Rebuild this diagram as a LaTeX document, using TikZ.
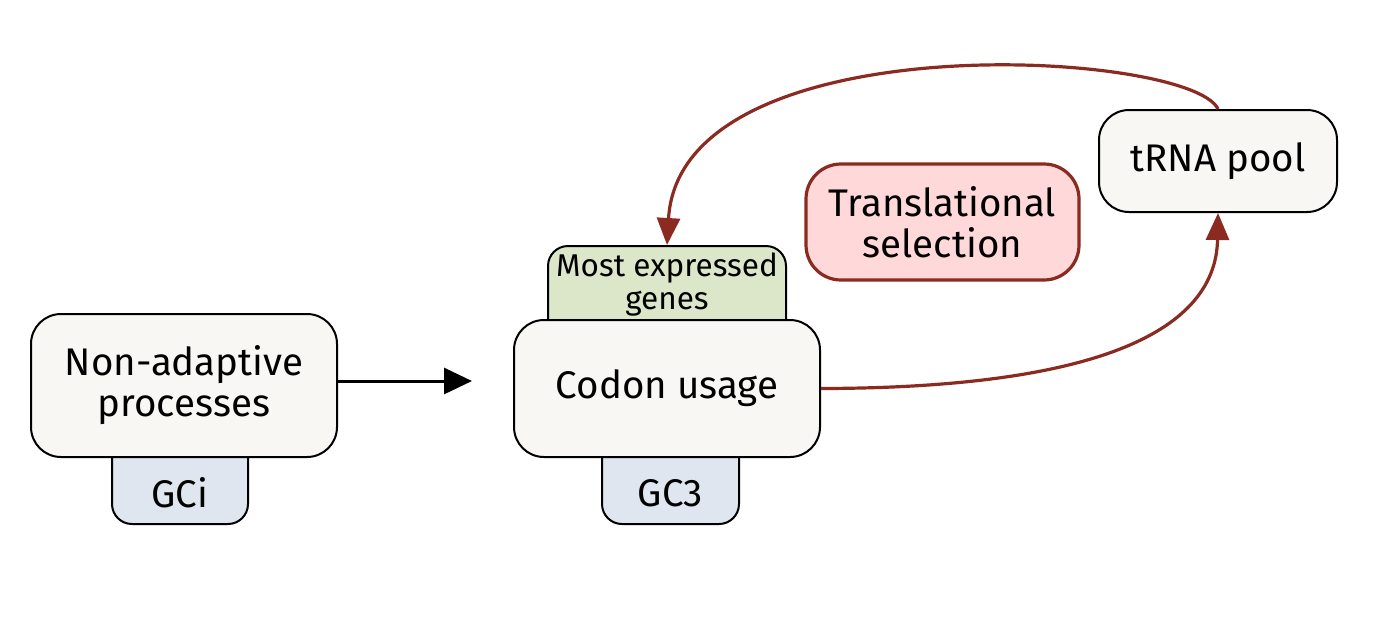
\documentclass[tikz,border=0pt]{standalone}
\usepackage{fontspec}
\setmainfont{Fira Sans}
\usetikzlibrary{arrows.meta}
\definecolor{boxfill}{HTML}{F8F7F3}
\definecolor{gcfill}{HTML}{DFE6EF}
\definecolor{genefill}{HTML}{DCE6C8}
\definecolor{selfill}{HTML}{FFD9D9}
\definecolor{selred}{HTML}{8B2A20}
\begin{document}
\begin{tikzpicture}[x=1pt,y=-1pt,
  bigtext/.style={font=\fontsize{38.5}{41}\selectfont},
  smalltext/.style={font=\fontsize{31.5}{33}\selectfont},
  mainbox/.style={draw=black, line width=2pt, fill=boxfill, rounded corners=30pt,
    align=center, inner sep=0pt, bigtext},
  tabbox/.style={draw=black, line width=2pt, rounded corners=20pt, inner sep=0pt},
  selbox/.style={draw=selred, line width=3.2pt, fill=selfill, rounded corners=35pt,
    align=center, inner sep=0pt, bigtext},
  redarrow/.style={draw=selred, line width=3.2pt, -{Triangle[length=27pt,width=23pt]}},
  blackarrow/.style={draw=black, line width=3pt, -{Triangle[length=28pt,width=26pt]}}
]
\useasboundingbox (0,0) rectangle (1397,638);
% tabs
\node[tabbox, fill=gcfill, minimum width=136pt, minimum height=100pt] (gci) at (180,474) {};
\node[bigtext] (gcitext) at (180,493) {GCi};
\node[tabbox, fill=gcfill, minimum width=137pt, minimum height=100pt] (gcthree) at (670.5,474) {};
\node[bigtext] (gcthreetext) at (670.5,493) {GC3};
\node[tabbox, fill=genefill, minimum width=238pt, minimum height=100pt] (genes) at (667,296) {};
\node[smalltext, align=center] (genestext) at (667,285) {Most expressed\\genes};
% main boxes
\node[mainbox, minimum width=306pt, minimum height=143pt] (nonadapt) at (184,385.5) {Non-adaptive\\processes};
\node[mainbox, minimum width=306pt, minimum height=137pt] (codon) at (667,388.5) {Codon usage};
\node[mainbox, minimum width=238pt, minimum height=102pt] (trna) at (1218,161) {tRNA pool};
\node[selbox, minimum width=273pt, minimum height=116pt] (trans) at (942.5,222) {Translational\\selection};
% arrows
\coordinate (arrowend) at (472,381);
\draw[blackarrow] (nonadapt.east |- arrowend) -- (arrowend);
\draw[redarrow] (codon.east) .. controls (1100,388) and (1216,330) .. (trna.south);
\draw[redarrow] (trna.north) .. controls (1190,50) and (680,20) .. (genes.north);
\end{tikzpicture}
\end{document}
